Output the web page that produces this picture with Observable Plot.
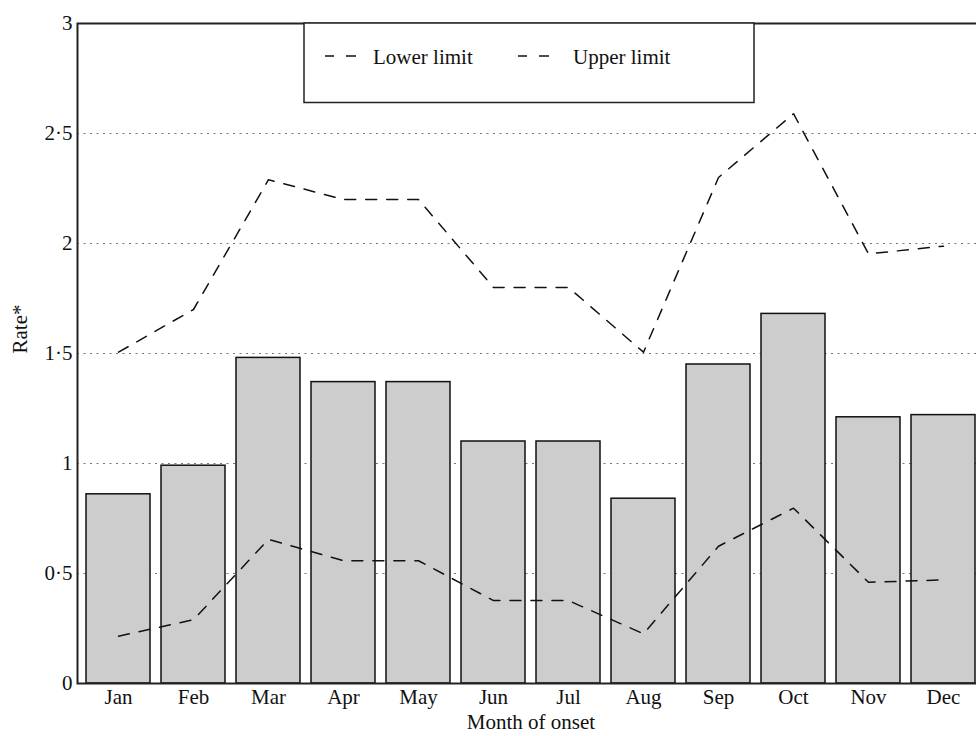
<!DOCTYPE html>
<html>
<head>
<meta charset="utf-8">
<script src="https://cdn.jsdelivr.net/npm/d3@7"></script>
<script src="https://cdn.jsdelivr.net/npm/@observablehq/plot@0.6"></script>
<style>
  html, body { margin: 0; padding: 0; background: white; overflow: hidden; }
  #chart { width: 976px; height: 736px; overflow: hidden; }
  #chart svg { max-width: none !important; }
</style>
</head>
<body>
<div id="chart"></div>
<script>
const months = ["Jan", "Feb", "Mar", "Apr", "May", "Jun", "Jul", "Aug", "Sep", "Oct", "Nov", "Dec"];
const rate = [0.86, 0.99, 1.48, 1.37, 1.37, 1.10, 1.10, 0.84, 1.45, 1.68, 1.21, 1.22];
const lowerLimit = [0.215, 0.29, 0.655, 0.558, 0.558, 0.377, 0.377, 0.226, 0.624, 0.797, 0.46, 0.471];
const upperLimit = [1.506, 1.70, 2.29, 2.20, 2.20, 1.80, 1.80, 1.506, 2.30, 2.59, 1.953, 1.988];
const yTicks = [0, 0.5, 1, 1.5, 2, 2.5, 3];
const gridValues = [0.5, 1, 1.5, 2, 2.5];
const legendLabels = ["Lower limit", "Upper limit"];

const data = months.map((m, i) => ({month: m, rate: rate[i], lower: lowerLimit[i], upper: upperLimit[i]}));

const font = "'Liberation Serif', 'Times New Roman', Times, serif";
const fs = 21;

const chart = Plot.plot({
  width: 984,
  height: 736,
  marginLeft: 77,
  marginRight: 0,
  marginTop: 23,
  marginBottom: 53,
  style: {fontFamily: font, fontSize: "21px", background: "white", color: "#111", maxWidth: "none"},
  x: {domain: months, paddingInner: 0.15, paddingOuter: 0.08, label: null},
  y: {domain: [0, 3], label: null},
  marks: [
    Plot.ruleY(gridValues, {stroke: "#777", strokeWidth: 1, strokeDasharray: "2,4.5"}),
    Plot.barY(data, {x: "month", y: "rate", fill: "#cdcdcd", stroke: "#111", strokeWidth: 1.5}),
    Plot.line(data, {x: "month", y: "lower", stroke: "#111", strokeWidth: 1.5, strokeDasharray: "11,10"}),
    Plot.line(data, {x: "month", y: "upper", stroke: "#111", strokeWidth: 1.5, strokeDasharray: "11,10"}),
    Plot.frame({stroke: "#222", strokeWidth: 2}),
    Plot.axisX({tickSize: 0, tickPadding: 6, label: null, fontSize: fs, fontFamily: font}),
    Plot.axisY({ticks: yTicks, tickSize: 0, tickPadding: 5, label: null, fontSize: fs, fontFamily: font,
      tickFormat: d => String(d).replace(".", "\u00B7")}),
    Plot.text(["Rate*"], {frameAnchor: "left", dx: -57, rotate: -90, text: d => d, fontSize: fs, fontFamily: font}),
    Plot.text(["Month of onset"], {frameAnchor: "bottom", dy: 45.5, text: d => d, fontSize: fs, fontFamily: font})
  ]
});

chart.style.maxWidth = "none";
document.getElementById("chart").appendChild(chart);

// Legend box
const svg = d3.select(chart);
const lg = svg.append("g").attr("class", "legend");
lg.append("rect")
  .attr("x", 304).attr("y", 23).attr("width", 450).attr("height", 79.5)
  .attr("fill", "white").attr("stroke", "#222").attr("stroke-width", 1.5);
const items = [
  {label: legendLabels[0], x0: 325, tx: 373},
  {label: legendLabels[1], x0: 518, tx: 573}
];
for (const it of items) {
  lg.append("line").attr("x1", it.x0).attr("x2", it.x0 + 9).attr("y1", 56).attr("y2", 56)
    .attr("stroke", "#111").attr("stroke-width", 1.5);
  lg.append("line").attr("x1", it.x0 + 21).attr("x2", it.x0 + 31).attr("y1", 56).attr("y2", 56)
    .attr("stroke", "#111").attr("stroke-width", 1.5);
  lg.append("text").attr("x", it.tx).attr("y", 63.5)
    .attr("text-anchor", "start")
    .attr("font-family", font).attr("font-size", fs).attr("fill", "#111")
    .text(it.label);
}
</script>
</body>
</html>
